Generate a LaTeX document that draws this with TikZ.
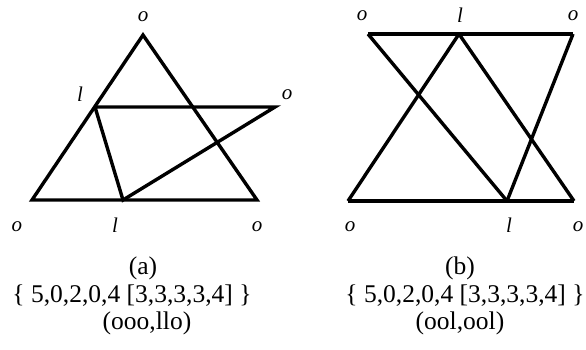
\documentclass[tikz,border=0pt]{standalone}
\usepackage{fontspec}
\setmainfont{Liberation Serif}
\usepackage{tikz}
\usetikzlibrary{positioning}

\begin{document}
\begin{tikzpicture}[x=1pt,y=-1pt,every node/.style={inner sep=0pt,align=center},edge/.style={line width=3.4pt,line join=miter,line cap=butt},vlabel/.style={font=\fontsize{21}{24}\selectfont\itshape},caption/.style={font=\fontsize{25.5}{28}\selectfont}]
\useasboundingbox (0,0) rectangle (586,349);
% (a)
\coordinate (aTop) at (143,35);
\coordinate (aBL) at (32,200);
\coordinate (aBR) at (257,200);
\coordinate (aL) at (95,107);
\coordinate (aR) at (275,107);
\coordinate (aB) at (123,200);
\draw[edge] (aTop)--(aBR)--(aBL)--cycle;
\draw[edge] (aL)--(aR)--(aB)--(aL);
\node[vlabel] (aTopLab) at (143,17) {o};
\node[vlabel] (aLLab) at (80,94) {l};
\node[vlabel] (aRLab) at (287,95) {o};
\node[vlabel] (aBLLab) at (17,227) {o};
\node[vlabel] (aBLab) at (115,225) {l};
\node[vlabel] (aBRLab) at (257,227) {o};
\node[caption] (aName) at (143,268) {(a)};
\node[caption] (aCode) at (132,296) {\{ 5,0,2,0,4 [3,3,3,3,4] \}};
\node[caption] (aPair) at (147,323) {(ooo,llo)};
% (b)
\coordinate (bTL) at (368,34);
\coordinate (bT) at (459,34);
\coordinate (bTR) at (573,34);
\coordinate (bBL) at (348,201);
\coordinate (bB) at (507,201);
\coordinate (bBR) at (574,201);
\draw[edge] (bTL)--(bTR);
\draw[edge] (bBL)--(bBR);
\draw[edge] (bTL)--(bB);
\draw[edge] (bT)--(bBL);
\draw[edge] (bT)--(bBR);
\draw[edge] (bTR)--(bB);
\node[vlabel] (bTLLab) at (362,16) {o};
\node[vlabel] (bTLab) at (460,15) {l};
\node[vlabel] (bTRLab) at (573,16) {o};
\node[vlabel] (bBLLab) at (350,227) {o};
\node[vlabel] (bBLab) at (509,225) {l};
\node[vlabel] (bBRLab) at (578,227) {o};
\node[caption] (bName) at (460,268) {(b)};
\node[caption] (bCode) at (465,296) {\{ 5,0,2,0,4 [3,3,3,3,4] \}};
\node[caption] (bPair) at (460,323) {(ool,ool)};
\end{tikzpicture}
\end{document}
